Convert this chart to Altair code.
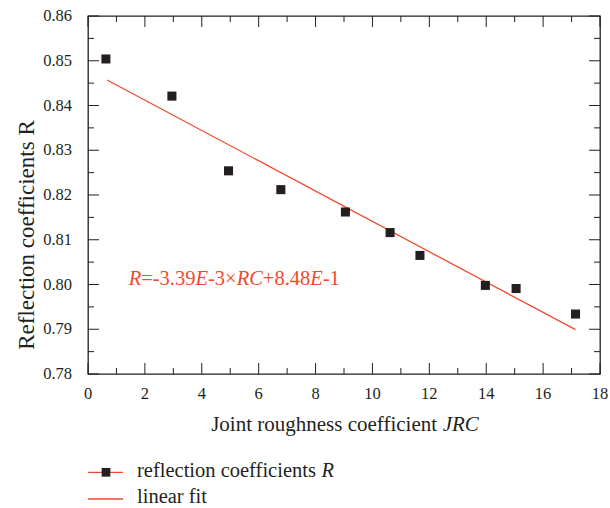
import altair as alt
import pandas as pd

# ---- data ----
jrc = [0.63, 2.95, 4.94, 6.78, 9.05, 10.62, 11.67, 13.97, 15.05, 17.14]
refl = [0.8504, 0.8421, 0.8254, 0.8212, 0.8162, 0.8116, 0.8065, 0.7998, 0.7991, 0.7934]
fit_x = [0.67, 17.14]
fit_y = [0.8457, 0.7899]
x_major = [0, 2, 4, 6, 8, 10, 12, 14, 16, 18]
x_minor = [1, 3, 5, 7, 9, 11, 13, 15, 17]
y_major = [0.78, 0.79, 0.80, 0.81, 0.82, 0.83, 0.84, 0.85, 0.86]
y_minor = [0.785, 0.795, 0.805, 0.815, 0.825, 0.835, 0.845, 0.855]
x_labels = ["0", "2", "4", "6", "8", "10", "12", "14", "16", "18"]
y_labels = ["0.78", "0.79", "0.80", "0.81", "0.82", "0.83", "0.84", "0.85", "0.86"]

W, H = 512, 358
FONT = "Liberation Serif"
INK = "#231f20"
RED = "#ef4a2e"

# Times / Liberation Serif advance widths (per 1000 em) for text layout
REG = {' ': 250, '.': 250, '-': 333, '=': 564, '+': 564, '×': 564,
       'J': 389, 'o': 500, 'i': 278, 'n': 500, 't': 278, 'r': 333, 'u': 500,
       'g': 500, 'h': 500, 'e': 444, 's': 389, 'c': 444, 'f': 333, 'l': 278,
       'a': 444, 'R': 667, 'C': 667}
for d in "0123456789":
    REG[d] = 500
ITA = {'R': 611, 'E': 611, 'C': 667, 'J': 444}


def tw(s, italic, size):
    table = ITA if italic else REG
    return sum(table.get(ch, 500) for ch in s) * size / 1000.0


xs = alt.Scale(domain=[0, 18], nice=False, zero=False)
ys = alt.Scale(domain=[0.78, 0.86], nice=False, zero=False)


def X(field="x"):
    return alt.X(f"{field}:Q", scale=xs, axis=None)


def Y(field="y"):
    return alt.Y(f"{field}:Q", scale=ys, axis=None)


pts_df = pd.DataFrame({"x": jrc, "y": refl})
fit_df = pd.DataFrame({"x": fit_x, "y": fit_y})
one = pd.DataFrame({"a": [0]})

fit = alt.Chart(fit_df).mark_line(color=RED, strokeWidth=1.3).encode(x=X(), y=Y())
points = alt.Chart(pts_df).mark_square(size=82, color=INK, opacity=1).encode(x=X(), y=Y())

layers = [fit, points]


# inward ticks on all four sides
def xticks(vals, length):
    df = pd.DataFrame({"x": vals})
    base = alt.Chart(df).mark_rule(color=INK, strokeWidth=1)
    return [
        base.encode(x=X(), y=alt.value(H), y2=alt.value(H - length)),
        base.encode(x=X(), y=alt.value(0), y2=alt.value(length)),
    ]


def yticks(vals, length):
    df = pd.DataFrame({"y": vals})
    base = alt.Chart(df).mark_rule(color=INK, strokeWidth=1)
    return [
        base.encode(y=Y(), x=alt.value(0), x2=alt.value(length)),
        base.encode(y=Y(), x=alt.value(W), x2=alt.value(W - length)),
    ]


layers += xticks(x_major, 11) + xticks(x_minor, 6) + yticks(y_major, 11) + yticks(y_minor, 6)

# tick labels
xl_df = pd.DataFrame({"x": x_major, "t": x_labels})
yl_df = pd.DataFrame({"y": y_major, "t": y_labels})
layers.append(alt.Chart(xl_df).mark_text(
    font=FONT, fontSize=16.5, color=INK, align="center", baseline="alphabetic"
).encode(x=X(), y=alt.value(H + 24.5), text="t:N"))
layers.append(alt.Chart(yl_df).mark_text(
    font=FONT, fontSize=16.5, color=INK, align="right", baseline="middle"
).encode(y=Y(), x=alt.value(-16), text="t:N"))

# annotation with mixed italic pieces, anchored at a data point
ann_x, ann_y = 1.43, 0.80
ann_pieces = [("R", True), ("=-3.39", False), ("E", True), ("-3×", False),
              ("RC", True), ("+8.48", False), ("E", True), ("-1", False)]
ANN_SIZE = 20.5
off = 0.0
ann_df = pd.DataFrame({"x": [ann_x], "y": [ann_y]})
for txt, ital in ann_pieces:
    layers.append(
        alt.Chart(ann_df).mark_text(
            text=txt, font=FONT, fontSize=ANN_SIZE, color=RED, align="left",
            baseline="alphabetic", dx=off, fontStyle="italic" if ital else "normal"
        ).encode(x=X(), y=Y())
    )
    off += tw(txt, ital, ANN_SIZE)

# x-axis title: regular + italic part
XT_SIZE = 21
xt_reg = "Joint roughness coefficient"
xt_ita = "JRC"
gap = tw(" ", False, XT_SIZE)
total = tw(xt_reg, False, XT_SIZE) + gap + tw(xt_ita, True, XT_SIZE)
xt_center = 257
xt_start = xt_center - total / 2
xt_base = 415
layers.append(alt.Chart(one).mark_text(
    text=xt_reg, font=FONT, fontSize=XT_SIZE, color=INK, align="left", baseline="alphabetic"
).encode(x=alt.value(xt_start), y=alt.value(xt_base)))
layers.append(alt.Chart(one).mark_text(
    text=xt_ita, font=FONT, fontSize=XT_SIZE, color=INK, align="left", baseline="alphabetic",
    fontStyle="italic"
).encode(x=alt.value(xt_start + tw(xt_reg, False, XT_SIZE) + gap), y=alt.value(xt_base)))

# y-axis title
layers.append(alt.Chart(one).mark_text(
    text="Reflection coefficients R", font=FONT, fontSize=23, color=INK, angle=270,
    align="center", baseline="middle"
).encode(x=alt.value(-61), y=alt.value(219)))

# legend (below the plot)
LG = 20.5
lg1_y, lg2_y = 456.3, 483
for ly in (lg1_y, lg2_y):
    layers.append(alt.Chart(one).mark_rule(color=RED, strokeWidth=1.3).encode(
        x=alt.value(0), x2=alt.value(35), y=alt.value(ly)))
layers.append(alt.Chart(one).mark_square(size=76, color=INK, opacity=1).encode(
    x=alt.value(18), y=alt.value(lg1_y)))
lg_reg = "reflection coefficients "
layers.append(alt.Chart(one).mark_text(
    text=lg_reg, font=FONT, fontSize=LG, color=INK, align="left", baseline="alphabetic"
).encode(x=alt.value(49), y=alt.value(lg1_y + 5)))
layers.append(alt.Chart(one).mark_text(
    text="R", font=FONT, fontSize=LG, color=INK, align="left", baseline="alphabetic",
    fontStyle="italic"
).encode(x=alt.value(49 + tw(lg_reg, False, LG)), y=alt.value(lg1_y + 5)))
layers.append(alt.Chart(one).mark_text(
    text="linear fit", font=FONT, fontSize=LG, color=INK, align="left", baseline="alphabetic"
).encode(x=alt.value(49), y=alt.value(lg2_y + 4.3)))

chart = alt.layer(*layers).properties(
    width=W, height=H,
    autosize=alt.AutoSizeParams(type="none"),
    padding={"left": 88, "top": 16, "right": 10, "bottom": 134},
    background="white",
).configure_view(stroke=INK, strokeWidth=1.3)

chart.save("out.html", embed_options={"renderer": "svg", "actions": False})
